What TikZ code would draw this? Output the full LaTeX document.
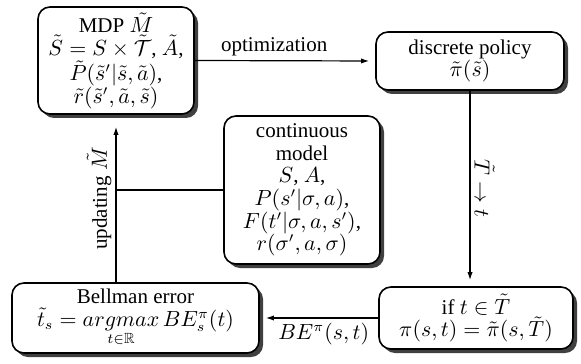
\documentclass[tikz,border=0pt]{standalone}
\usepackage{fontspec}
\setmainfont{Liberation Serif}
\usepackage{amssymb}
\usetikzlibrary{shadows,arrows.meta}
\begin{document}
\begin{tikzpicture}[x=0.5pt,y=-0.5pt,
  box/.style={draw=black, line width=0.8pt, rounded corners=6pt, fill=white,
    align=center, inner sep=0pt, font=\fontsize{10.5}{11.3}\selectfont,
    drop shadow={shadow xshift=2pt, shadow yshift=-2pt, fill=black!75, opacity=1}},
  conn/.style={line width=0.6pt},
  arr/.style={conn, -{Latex[length=4pt,width=2.6pt]}, shorten >=3pt},
  lbl/.style={font=\fontsize{10.5}{11}\selectfont, inner sep=2pt}]
\useasboundingbox (0,0) rectangle (581,363);

\node[box, minimum width=78pt, minimum height=53.5pt] (mdp) at (116,60.5)
  {MDP $\tilde M$\\ $\tilde S = S\times\tilde{\mathcal T}$, $\tilde A$,\\ $\tilde P(\tilde s'|\tilde s,\tilde a)$,\\ $\tilde r(\tilde s',\tilde a,\tilde s)$};
\node[box, minimum width=94pt, minimum height=29pt] (disc) at (470,61)
  {discrete policy\\ $\tilde\pi(\tilde s)$};
\node[box, minimum width=78pt, minimum height=74pt] (cont) at (302,190)
  {continuous\\ model\\ $S$, $A$,\\ $P(s'|\sigma,a)$,\\ $F(t'|\sigma,a,s')$,\\ $r(\sigma',a,\sigma)$};
\node[box, minimum width=123.5pt, minimum height=35pt] (bell) at (135.5,318)
  {Bellman error\\ $\tilde t_s = \mathop{argmax}\limits_{t\in\mathbb{R}} BE^{\pi}_s(t)$};
\node[box, minimum width=97pt, minimum height=31pt] (ifb) at (476,318)
  {if $t\in\tilde T$\\ $\pi(s,t)=\tilde\pi(s,\tilde T)$};

\draw[arr] (mdp.east) -- node[lbl, pos=0.44, above] {optimization} (disc.west);
\draw[arr] (disc.south) -- node[lbl, midway, sloped, above] {$\tilde T\rightarrow t$} (disc.south |- ifb.north);
\draw[arr] (ifb.west) -- node[lbl, pos=0.46, below] {$BE^{\pi}(s,t)$} (bell.east);
\draw[arr, shorten >=6pt] (bell.north -| mdp.south) -- node[lbl, pos=0.5, sloped, above] {updating $\tilde M$} (mdp.south);
\draw[conn] (cont.west) -- (cont.west -| mdp.south);
\end{tikzpicture}
\end{document}
